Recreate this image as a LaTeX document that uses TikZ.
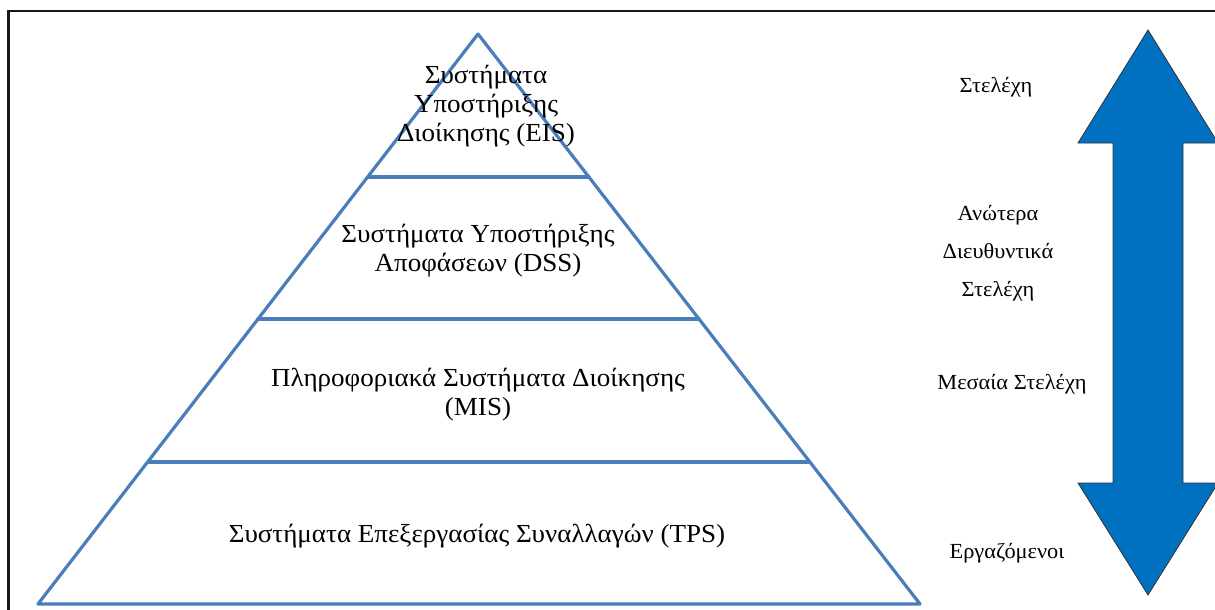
\documentclass[tikz,border=0pt]{standalone}
\usepackage{fontspec}
\setmainfont[FakeStretch=1.04]{Liberation Serif}
\begin{document}
\begin{tikzpicture}[x=1pt,y=-1pt,
  pyr/.style={draw=pyrblue,line width=3.2pt,line join=round,line cap=round},
  lvl/.style={align=center,font=\fontsize{26}{29}\selectfont,inner sep=0pt},
  side/.style={align=center,font=\fontsize{21.5}{38}\selectfont,inner sep=0pt},
  bigarrow/.style={fill=arrowblue,draw=black!80,line width=0.8pt,line join=miter}]
\definecolor{pyrblue}{HTML}{4A7EBB}
\definecolor{arrowblue}{HTML}{0070C0}
\useasboundingbox (0,0) rectangle (1215,610);
\clip (0,0) rectangle (1215,610);
% frame
\draw[line width=2.5pt,black!90] (8.5,612) -- (8.5,11) -- (1220,11);
% pyramid
\coordinate (apex) at (478,34);
\coordinate (bl) at (38,604);
\coordinate (br) at (920,604);
\draw[pyr] (apex) -- (br) -- (bl) -- cycle;
\draw[pyr] (368,177) -- (589,177);
\draw[pyr] (258,319) -- (699,319);
\draw[pyr] (148,462) -- (809,462);
% level texts
\node[lvl] (eis) at (486,106) {Συστήματα\\Υποστήριξης\\Διοίκησης (EIS)};
\node[lvl] (dss) at (478,251) {Συστήματα Υποστήριξης\\Αποφάσεων (DSS)};
\node[lvl] (mis) at (478,395) {Πληροφοριακά Συστήματα Διοίκησης\\(MIS)};
\node[lvl] (tps) at (477,536) {Συστήματα Επεξεργασίας Συναλλαγών (TPS)};
% arrow
\draw[bigarrow] (1148,30) -- (1218,143) -- (1183,143) -- (1183,483) -- (1218,483)
  -- (1148,595) -- (1078,483) -- (1113,483) -- (1113,143) -- (1078,143) -- cycle;
% side labels
\node[side] (s1) at (996,87) {Στελέχη};
\node[side] (s2) at (998,253) {Ανώτερα\\Διευθυντικά\\Στελέχη};
\node[side] (s3) at (1012,384) {Μεσαία Στελέχη};
\node[side] (s4) at (1007,553) {Εργαζόμενοι};
\end{tikzpicture}
\end{document}
